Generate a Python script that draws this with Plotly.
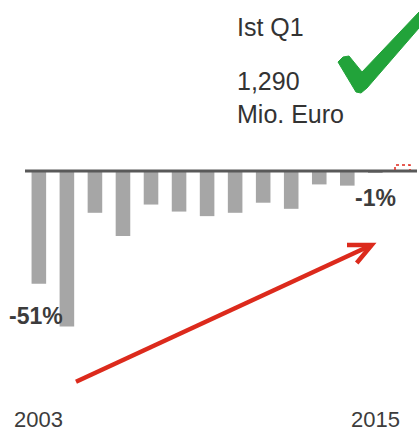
import plotly.graph_objects as go

W, H = 419, 433

years = list(range(2003, 2016))
values = [-37, -51, -13.7, -21.3, -11, -13.3, -14.8, -13.7, -10.4, -12.4, -4.4, -4.8, -0.5]
label_years = [2004, 2015]
label_texts = ["-51%", "-1%"]
axis_years = [2003, 2015]
headline = "Ist Q1"
amount = "1,290<br>Mio. Euro"

FONT = "Liberation Sans, Arial, sans-serif"
TXT = "#3c3c3c"


def px(x, y):
    return x / W, 1 - y / H


fig = go.Figure()
fig.add_trace(go.Bar(x=years, y=values, width=0.52, marker=dict(color="#a6a6a6", line=dict(width=0)),
                     hoverinfo="skip"))

shapes = []
# baseline
shapes.append(dict(type="line", xref="paper", yref="y", x0=25 / W, x1=417 / W, y0=0, y1=0,
                   line=dict(color="#595959", width=3), layer="above"))
# small red dashed outline at right end
x0, y0 = px(395, 165)
x1, y1 = px(410, 170)
shapes.append(dict(type="path", xref="paper", yref="paper",
                   path=f"M {x0} {y1} L {x0} {y0} L {x1} {y0} L {x1} {y1}",
                   line=dict(color="#e0281c", width=1.5, dash="dot")))
# red arrow
a0 = px(76, 381.7)
a1 = px(371.7, 245)
h1 = px(347, 245)
h2 = px(356.7, 263)
shapes.append(dict(type="line", xref="paper", yref="paper", x0=a0[0], y0=a0[1], x1=a1[0], y1=a1[1],
                   line=dict(color="#dc2a1c", width=4.5)))
shapes.append(dict(type="path", xref="paper", yref="paper",
                   path=f"M {h1[0]} {h1[1]} L {a1[0]} {a1[1]} L {h2[0]} {h2[1]}",
                   line=dict(color="#dc2a1c", width=4.5)))
# green check mark
pts = [(338, 62), (343, 57), (349, 56), (362, 72), (419, 12), (419, 28), (367, 88), (361, 93), (356, 92)]
pp = [px(x, y) for x, y in pts]
path = "M " + " L ".join(f"{a} {b}" for a, b in pp) + " Z"
shapes.append(dict(type="path", xref="paper", yref="paper", path=path,
                   fillcolor="#22a33a", line=dict(color="#22a33a", width=1)))

annotations = []
annotations.append(dict(x=label_years[0], y=values[years.index(label_years[0])], xref="x", yref="y",
                        text=f"<b>{label_texts[0]}</b>", showarrow=False, xanchor="center", yanchor="middle",
                        xshift=-31, yshift=11, font=dict(size=23, color=TXT, family=FONT)))
annotations.append(dict(x=label_years[1], y=values[years.index(label_years[1])], xref="x", yref="y",
                        text=f"<b>{label_texts[1]}</b>", showarrow=False, xanchor="center", yanchor="middle",
                        yshift=-25, font=dict(size=23, color=TXT, family=FONT)))
for yr in axis_years:
    annotations.append(dict(x=yr, y=0, xref="x", yref="paper", text=str(yr), showarrow=False,
                            xanchor="center", yanchor="bottom", borderpad=0,
                            font=dict(size=22, color=TXT, family=FONT)))
annotations.append(dict(x=235 / W, y=px(0, 27)[1], xref="paper", yref="paper", text=headline, showarrow=False,
                        xanchor="left", yanchor="middle", font=dict(size=25, color="#333333", family=FONT)))
annotations.append(dict(x=235 / W, y=px(0, 97)[1], xref="paper", yref="paper", text=amount, showarrow=False,
                        xanchor="left", yanchor="middle", align="left",
                        font=dict(size=25, color="#333333", family=FONT)))

pitch = 28.04
c0 = 38.85
fig.update_layout(
    width=W, height=H, margin=dict(l=0, r=0, t=0, b=0),
    paper_bgcolor="white", plot_bgcolor="white", showlegend=False,
    xaxis=dict(range=[2003 - c0 / pitch, 2003 + (W - c0) / pitch], visible=False, fixedrange=True),
    yaxis=dict(range=[-(H - 171) / 3.05, 171 / 3.05], visible=False, fixedrange=True),
    shapes=shapes, annotations=annotations,
)

fig.write_html("out.html", config={"displayModeBar": False},
               post_script="document.body.style.margin='0';document.body.style.overflow='hidden';")
